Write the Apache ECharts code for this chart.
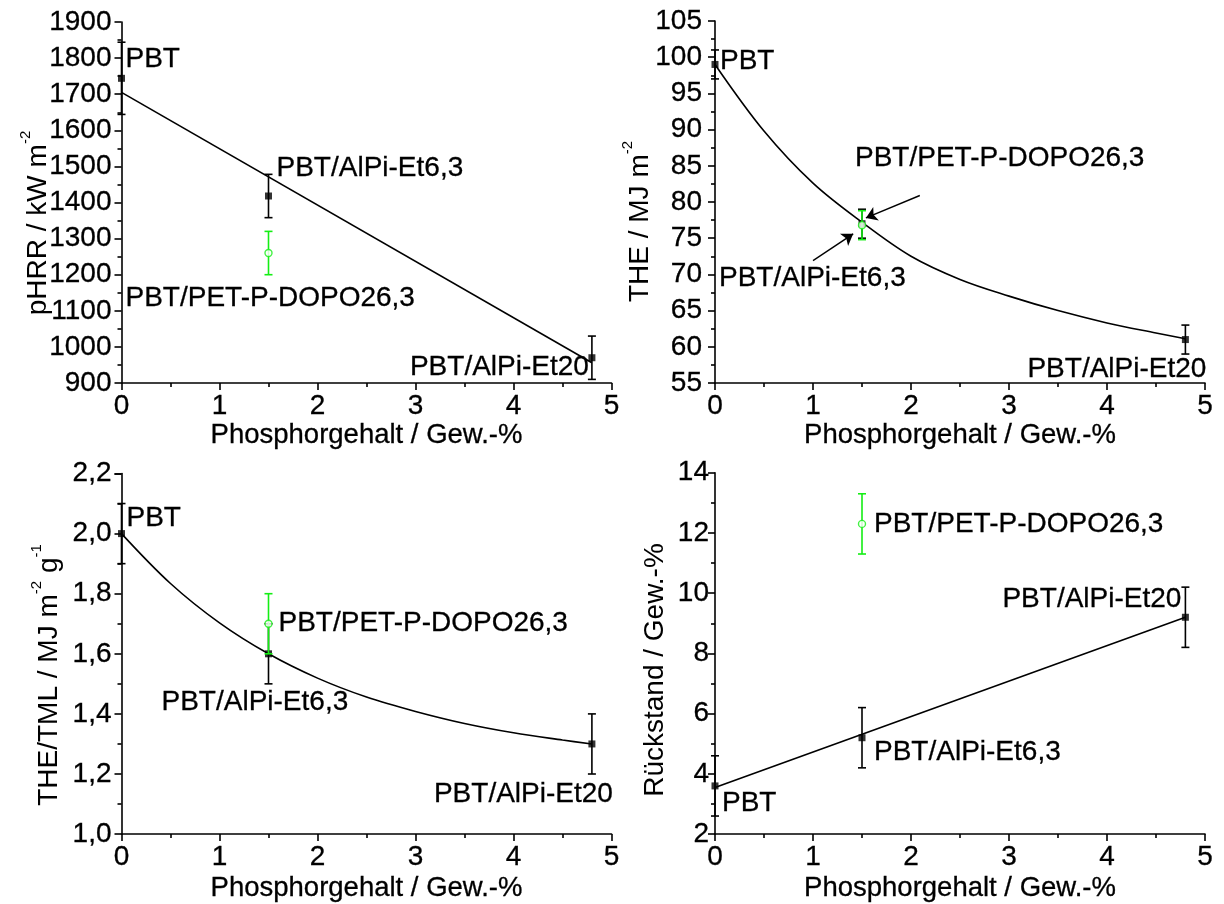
<!DOCTYPE html>
<html>
<head>
<meta charset="utf-8">
<script src="https://cdn.jsdelivr.net/npm/echarts@6/dist/echarts.min.js"></script>
<style>
  html, body { margin: 0; padding: 0; background: #ffffff; }
  #chart { width: 1224px; height: 904px; }
</style>
</head>
<body>
<div id="chart"></div>
<script>
// ---- Data -------------------------------------------------------------
// Phosphorus content of the samples (Gew.-%)
const phosphorusAlPi = [0, 1.5, 4.8];
const phosphorusDopo = [1.5];
const namesAlPi = ['PBT', 'PBT/AlPi-Et6,3', 'PBT/AlPi-Et20'];
const nameDopo = 'PBT/PET-P-DOPO26,3';

// x positions of the trend curves
const fitX = [0, 0.5, 1, 1.5, 2, 2.5, 3, 3.5, 4, 4.5, 4.8];
const lineX = [0, 4.8];

// Peak heat release rate (kW m-2)
const pHRR = [1744, 1418, 970];
const pHRRErr = [100, 60, 60];
const pHRRDopo = [1260];
const pHRRDopoErr = [60];
const pHRRTrend = [1705, 956];

// Total heat evolved (MJ m-2)
const THE = [99, 77, 61];
const THEErr = [2, 2, 2];
const THEDopo = [76.8];
const THEDopoErr = [2];
const THETrend = [99.0, 89.8, 82.6, 77.2, 72.5, 69.3, 67.0, 65.0, 63.3, 61.9, 61.1];

// THE / total mass loss (MJ m-2 g-1)
const ratio = [2.0, 1.6, 1.3];
const ratioErr = [0.1, 0.1, 0.1];
const ratioDopo = [1.7];
const ratioDopoErr = [0.1];
const ratioTrend = [2.0, 1.834, 1.703, 1.600, 1.519, 1.456, 1.408, 1.368, 1.337, 1.313, 1.300];

// Residue (Gew.-%)
const residue = [3.6, 5.2, 9.2];
const residueErr = [1.0, 1.0, 1.0];
const residueDopo = [12.3];
const residueDopoErr = [1.0];
const residueTrend = [3.55, 9.2];

// Axis ticks
const xTicks = [0, 1, 2, 3, 4, 5];
const pHRRTicks = [900, 1000, 1100, 1200, 1300, 1400, 1500, 1600, 1700, 1800, 1900];
const THETicks = [55, 60, 65, 70, 75, 80, 85, 90, 95, 100, 105];
const ratioTicks = [1.0, 1.2, 1.4, 1.6, 1.8, 2.0, 2.2];
const residueTicks = [2, 4, 6, 8, 10, 12, 14];

// ---- Styling ---------------------------------------------------------
const FONT = '"Liberation Sans", Arial, sans-serif';
const BLACK = '#000000';
const GREEN = '#14ee14';
const AXIS_W = 1.6;
const TICK_FS = 28;
const LABEL_FS = 28;
const NAME_FS = 27.5;

const panels = [
  {
    grid: { left: 121.5, top: 22, width: 490, height: 361 },
    yTicks: pHRRTicks, yLabelMargin: 10, yFmt: v => String(v),
    xNameGap: 38,
    alpi: pHRR, alpiErr: pHRRErr, dopo: pHRRDopo, dopoErr: pHRRDopoErr,
    trendX: lineX, trend: pHRRTrend, smooth: false,
    labelsAlpi: [['left', 4, -19], ['left', 8, -28], ['right', -3, 10]],
    labelDopo: ['left', -143, 45],
    title: { x: 35.5, y: 223, text: '{a|pHRR / kW m}{s|-2}' }
  },
  {
    grid: { left: 715, top: 21, width: 490, height: 362 },
    yTicks: THETicks, yLabelMargin: 13, yFmt: v => String(v),
    xNameGap: 38,
    alpi: THE, alpiErr: THEErr, dopo: THEDopo, dopoErr: THEDopoErr,
    trendX: fitX, trend: THETrend, smooth: true,
    labelsAlpi: [['left', 5, -3], ['left', -143, 55], ['right', 21, 30]],
    labelDopo: ['left', -7, -67],
    title: { x: 637.5, y: 221.5, text: '{a|THE / MJ m}{s|-2}' },
    arrows: [
      [[2.09, 80.9], [1.54, 77.8]],
      [[1.0, 71.9], [1.41, 75.6]]
    ]
  },
  {
    grid: { left: 121.5, top: 473.5, width: 490, height: 361.5 },
    yTicks: ratioTicks, yLabelMargin: 10, yFmt: v => v.toFixed(1).replace('.', ','),
    xNameGap: 41,
    alpi: ratio, alpiErr: ratioErr, dopo: ratioDopo, dopoErr: ratioDopoErr,
    trendX: fitX, trend: ratioTrend, smooth: true,
    labelsAlpi: [['left', 5, -15], ['left', -107, 48], ['right', 21, 50]],
    labelDopo: ['left', 10, 0],
    title: { x: 46.5, y: 675, text: '{a|THE/TML / MJ m}{s|-2}{a| g}{s|-1}' }
  },
  {
    grid: { left: 715, top: 472.7, width: 490, height: 361.7 },
    yTicks: residueTicks, yLabelMargin: 6, yFmt: v => String(v),
    xNameGap: 41,
    alpi: residue, alpiErr: residueErr, dopo: residueDopo, dopoErr: residueDopoErr,
    trendX: lineX, trend: residueTrend, smooth: false,
    labelsAlpi: [['left', 7, 17], ['left', 12, 15], ['right', -4, -18]],
    labelDopo: ['left', 12, 0],
    title: { x: 652.5, y: 670, text: '{a|Rückstand / Gew.-%}' }
  }
];

const tickStyle = { color: BLACK, width: AXIS_W };

function valueAxisBase(ticks) {
  return {
    type: 'value',
    min: ticks[0],
    max: ticks[ticks.length - 1],
    interval: ticks[1] - ticks[0],
    axisLine: { show: true, onZero: false, lineStyle: { color: BLACK, width: AXIS_W } },
    axisTick: { show: true, inside: false, length: 7, lineStyle: tickStyle },
    minorTick: { show: true, splitNumber: 2, length: 4, lineStyle: tickStyle },
    splitLine: { show: false },
    minorSplitLine: { show: false }
  };
}

function labelFor(cfg, text) {
  return {
    show: true,
    position: 'inside',
    formatter: text,
    align: cfg[0],
    verticalAlign: 'middle',
    offset: [cfg[1], cfg[2]],
    color: BLACK,
    opacity: 1,
    textBorderColor: BLACK,
    textBorderWidth: 0.3,
    fontFamily: FONT,
    fontSize: LABEL_FS,
    lineHeight: LABEL_FS
  };
}

function errorBars(idx, xs, ys, es, color, z) {
  return {
    type: 'custom',
    xAxisIndex: idx,
    yAxisIndex: idx,
    z: z,
    silent: true,
    clip: false,
    data: xs.map((x, i) => [x, ys[i], es[i]]),
    renderItem(params, api) {
      const x = api.value(0), y = api.value(1), e = api.value(2);
      const hi = api.coord([x, y + e]);
      const lo = api.coord([x, y - e]);
      const hw = 4;
      const st = () => ({ stroke: color, lineWidth: 1.6 });
      return {
        type: 'group',
        children: [
          { type: 'line', shape: { x1: hi[0], y1: hi[1], x2: lo[0], y2: lo[1] }, style: st() },
          { type: 'line', shape: { x1: hi[0] - hw, y1: hi[1], x2: hi[0] + hw, y2: hi[1] }, style: st() },
          { type: 'line', shape: { x1: lo[0] - hw, y1: lo[1], x2: lo[0] + hw, y2: lo[1] }, style: st() }
        ]
      };
    }
  };
}

const grids = [], xAxes = [], yAxes = [], series = [], graphics = [];

panels.forEach((p, i) => {
  grids.push(Object.assign({ containLabel: false }, p.grid));

  xAxes.push(Object.assign(valueAxisBase(xTicks), {
    gridIndex: i,
    axisLabel: {
      color: BLACK, fontFamily: FONT, fontSize: TICK_FS, lineHeight: TICK_FS, margin: 9,
      textBorderColor: BLACK, textBorderWidth: 0.3
    },
    name: 'Phosphorgehalt / Gew.-%',
    nameLocation: 'middle',
    nameGap: p.xNameGap,
    nameTextStyle: {
      color: BLACK, fontFamily: FONT, fontSize: NAME_FS, lineHeight: NAME_FS,
      textBorderColor: BLACK, textBorderWidth: 0.3
    }
  }));

  yAxes.push(Object.assign(valueAxisBase(p.yTicks), {
    gridIndex: i,
    axisLabel: {
      color: BLACK, fontFamily: FONT, fontSize: TICK_FS, margin: p.yLabelMargin, formatter: p.yFmt,
      textBorderColor: BLACK, textBorderWidth: 0.3
    }
  }));

  // trend line / fitted curve
  const trendSeries = {
    type: 'line',
    xAxisIndex: i,
    yAxisIndex: i,
    z: 2,
    silent: true,
    showSymbol: false,
    symbol: 'none',
    smooth: p.smooth ? 0.35 : false,
    lineStyle: { color: BLACK, width: 1.6 },
    data: p.trendX.map((x, k) => [x, p.trend[k]])
  };
  if (p.arrows) {
    trendSeries.markLine = {
      silent: true,
      symbol: ['none', 'arrow'],
      symbolSize: 11,
      label: { show: false },
      lineStyle: { color: BLACK, width: 1.4, type: 'solid' },
      data: p.arrows.map(a => [{ coord: a[0] }, { coord: a[1] }])
    };
  }
  series.push(trendSeries);

  // AlPi samples: error bars + filled squares
  series.push(errorBars(i, phosphorusAlPi, p.alpi, p.alpiErr, BLACK, 3));
  series.push({
    type: 'scatter',
    xAxisIndex: i,
    yAxisIndex: i,
    z: 4,
    silent: true,
    symbol: 'rect',
    symbolSize: 7,
    itemStyle: { color: BLACK },
    data: phosphorusAlPi.map((x, k) => ({
      value: [x, p.alpi[k]],
      name: namesAlPi[k],
      label: labelFor(p.labelsAlpi[k], namesAlPi[k])
    }))
  });

  // DOPO sample: green error bar + open circle
  series.push(errorBars(i, phosphorusDopo, p.dopo, p.dopoErr, GREEN, 5));
  series.push({
    type: 'scatter',
    xAxisIndex: i,
    yAxisIndex: i,
    z: 6,
    silent: true,
    symbol: 'circle',
    symbolSize: 7,
    itemStyle: { color: '#ffffff', borderColor: GREEN, borderWidth: 1.4 },
    data: phosphorusDopo.map((x, k) => ({
      value: [x, p.dopo[k]],
      name: nameDopo,
      label: labelFor(p.labelDopo, nameDopo)
    }))
  });

  // rotated y-axis title with superscripts
  graphics.push({
    type: 'text',
    x: p.title.x,
    y: p.title.y,
    rotation: Math.PI / 2,
    silent: true,
    style: {
      text: p.title.text,
      align: 'center',
      verticalAlign: 'middle',
      fill: BLACK,
      rich: {
        a: { fontFamily: FONT, fontSize: 28, lineHeight: 34, verticalAlign: 'bottom', fill: BLACK },
        s: { fontFamily: FONT, fontSize: 15, lineHeight: 15, verticalAlign: 'top', fill: BLACK }
      }
    }
  });
});

const chart = echarts.init(document.getElementById('chart'), null, { renderer: 'canvas' });
chart.setOption({
  animation: false,
  backgroundColor: '#ffffff',
  grid: grids,
  xAxis: xAxes,
  yAxis: yAxes,
  series: series,
  graphic: graphics
});
</script>
</body>
</html>
